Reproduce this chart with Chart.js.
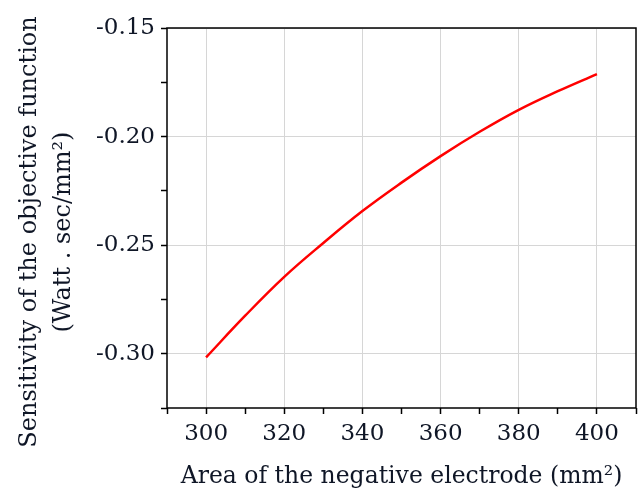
<!DOCTYPE html>
<html>
<head>
<meta charset="utf-8">
<script src="https://cdn.jsdelivr.net/npm/chart.js@4/dist/chart.umd.min.js"></script>
<style>
  html, body { margin: 0; padding: 0; background: #fff; }
  #wrap { width: 639px; height: 491px; }
</style>
</head>
<body>
<div id="wrap"><canvas id="myChart" width="639" height="491"></canvas></div>
<script>
// electrode area (mm^2) and sensitivity values
var area = [300, 310, 320, 330, 340, 350, 360, 370, 380, 390, 400]
var sensitivity = [-0.3017, -0.2825, -0.2646, -0.2490, -0.2343, -0.2212, -0.2090, -0.1978, -0.1877, -0.1791, -0.1712]

var xMajor = [300, 320, 340, 360, 380, 400]
var yMajor = [-0.30, -0.25, -0.20, -0.15]

var xTitle = 'Area of the negative electrode (mm\u00B2)'
var yTitle = ['Sensitivity of the objective function', '(Watt . sec/mm\u00B2)']

var FONT = "'DejaVu Serif', 'Liberation Serif', serif"
var INK = '#0f1626'

function isMajor(list, v) {
  for (var i = 0; i < list.length; i++) {
    if (Math.abs(list[i] - v) < 1e-6) return true
  }
  return false
}

// black box round the plot area
var frame = {
  id: 'frame',
  afterDatasetsDraw: function(chart) {
    var a = chart.chartArea
    var ctx = chart.ctx
    ctx.save()
    ctx.strokeStyle = '#000'
    ctx.lineWidth = 1.5
    ctx.strokeRect(a.left, a.top, a.right - a.left, a.bottom - a.top)
    ctx.restore()
  }
}

// two-line y title, turned on its side, a bit below the plot middle
var yLabel = {
  id: 'yLabel',
  afterDraw: function(chart) {
    var ctx = chart.ctx
    var a = chart.chartArea
    var cy = (a.top + a.bottom) / 2 + 14
    ctx.save()
    ctx.fillStyle = INK
    ctx.font = '24px ' + FONT
    ctx.textAlign = 'center'
    ctx.textBaseline = 'middle'
    var xs = [30, 64]
    for (var i = 0; i < yTitle.length; i++) {
      ctx.save()
      ctx.translate(xs[i], cy)
      ctx.rotate(-Math.PI / 2)
      ctx.fillText(yTitle[i], 0, 0)
      ctx.restore()
    }
    ctx.restore()
  }
}

var points = area.map(function(x, i) { return {x: x, y: sensitivity[i]} })

var ctx = document.getElementById('myChart').getContext('2d')
var chart = new Chart(ctx, {
  type: 'line',
  data: {
    datasets: [{
      data: points,
      borderColor: '#ff0000',
      borderWidth: 2.5,
      pointRadius: 0,
      tension: 0.4,
      fill: false
    }]
  },
  options: {
    responsive: false,
    animation: false,
    layout: { padding: { top: 28, right: 0, left: 0, bottom: 0 } },
    plugins: { legend: { display: false }, tooltip: { enabled: false } },
    scales: {
      x: {
        type: 'linear',
        min: 290,
        max: 410,
        afterFit: function(s) { s.height = 83; s.paddingRight = 3 },
        ticks: {
          stepSize: 10,
          autoSkip: false,
          maxRotation: 0,
          padding: 6,
          color: INK,
          font: { family: FONT, size: 23 },
          callback: function(v) { return isMajor(xMajor, v) ? String(v) : '' }
        },
        grid: {
          tickLength: 6,
          tickColor: '#000',
          tickWidth: 1.5,
          lineWidth: 1,
          color: function(c) {
            return c.tick && isMajor(xMajor, c.tick.value) ? '#d6d6d6' : 'rgba(0,0,0,0)'
          }
        },
        border: { display: false },
        title: {
          display: true,
          text: xTitle,
          color: INK,
          font: { family: FONT, size: 23.5 },
          padding: { top: 3, bottom: 0 }
        }
      },
      y: {
        type: 'linear',
        min: -0.325,
        max: -0.15,
        afterFit: function(s) { s.width = 167 },
        ticks: {
          stepSize: 0.025,
          autoSkip: false,
          padding: 6,
          color: INK,
          font: { family: FONT, size: 23 },
          callback: function(v) { return isMajor(yMajor, v) ? v.toFixed(2) : '' }
        },
        grid: {
          tickLength: 6,
          tickColor: '#000',
          tickWidth: 1.5,
          lineWidth: 1,
          color: function(c) {
            return c.tick && isMajor(yMajor, c.tick.value) ? '#d6d6d6' : 'rgba(0,0,0,0)'
          }
        },
        border: { display: false }
      }
    }
  },
  plugins: [frame, yLabel]
})
</script>
</body>
</html>
